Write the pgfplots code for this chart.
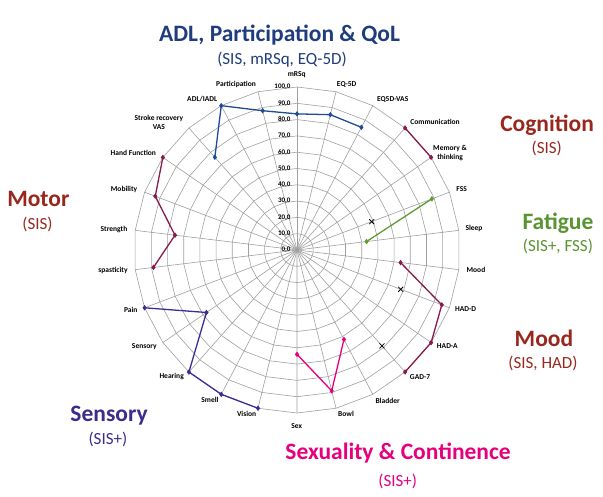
\documentclass[border=0pt]{standalone}
\usepackage{fontspec}
\setmainfont{Carlito}
\usepackage{pgfplots}
\pgfplotsset{compat=1.18}
\definecolor{gridc}{RGB}{160,160,160}
\definecolor{navyT}{RGB}{31,61,125}
\definecolor{adlL}{RGB}{31,75,150}
\definecolor{redT}{RGB}{152,40,30}
\definecolor{maroonL}{RGB}{135,25,75}
\definecolor{greenT}{RGB}{88,148,48}
\definecolor{greenL}{RGB}{95,155,50}
\definecolor{indigoT}{RGB}{62,44,140}
\definecolor{indigoL}{RGB}{60,45,150}
\definecolor{pinkT}{RGB}{230,0,126}
\tikzset{
  cat/.style={font=\fontsize{7.5}{9}\selectfont\bfseries, align=center, inner sep=0pt},
  ttl/.style={font=\fontsize{23.5}{28}\selectfont\bfseries, anchor=base, inner sep=0pt},
  sub/.style={font=\fontsize{17}{20}\selectfont, anchor=base, inner sep=0pt},
}
\begin{document}
\begin{tikzpicture}
\begin{axis}[width=603pt,height=497pt,scale only axis,
  xmin=-182.21,xmax=187.73,ymin=-151.53,ymax=153.37,
  hide axis, clip=false]
\path (rel axis cs:0,0) rectangle (rel axis cs:1,1);
\pgfplotsextra{
  \foreach \r in {10,20,...,100}{
    \draw[gridc, line width=0.6pt] (axis cs:0,\r)
      \foreach \k in {1,...,25}{ -- (axis cs:{\r*cos(90-\k*360/26)},{\r*sin(90-\k*360/26)}) } -- cycle;
  }
  \foreach \k in {0,...,25}{
    \draw[gridc, line width=0.6pt] (axis cs:0,0) -- (axis cs:{100*cos(90-\k*360/26)},{100*sin(90-\k*360/26)});
  }
  \foreach \v in {0,10,...,100}{
    \node[anchor=east, inner sep=0pt, font=\fontsize{7}{8}\selectfont\bfseries] at (axis cs:-3.9,\v) {\v,0};
  }
}
% ADL, Participation & QoL
\addplot[adlL, line width=1.3pt, mark=diamond*, mark size=1.7pt, data cs=polar] coordinates {
  (131.538,76) (117.692,100) (103.846,88) (90,83.5) (76.154,85.5) (62.308,85)};
% Cognition
\addplot[maroonL, line width=1.3pt, mark=diamond*, mark size=1.7pt, data cs=polar] coordinates {
  (48.462,100) (34.615,100)};
% Fatigue
\addplot[greenL, line width=1.3pt, mark=diamond*, mark size=1.7pt, data cs=polar] coordinates {
  (20.769,88.5) (6.923,43)};
% Mood
\addplot[maroonL, line width=1.3pt, mark=diamond*, mark size=1.7pt, data cs=polar] coordinates {
  (-6.923,64) (-20.769,95) (-34.615,100) (-48.462,100)};
% Sexuality & Continence
\addplot[pinkT, line width=1.3pt, mark=diamond*, mark size=1.7pt, data cs=polar] coordinates {
  (-90,64) (-76.154,89) (-62.308,62)};
% Sensory
\addplot[indigoL, line width=1.3pt, mark=diamond*, mark size=1.7pt, data cs=polar] coordinates {
  (-103.846,100) (-117.692,100) (-131.538,100) (-145.385,67.5) (-159.231,100)};
% Motor
\addplot[maroonL, line width=1.3pt, mark=diamond*, mark size=1.7pt, data cs=polar] coordinates {
  (-173.077,88.7) (173.077,75.4) (159.231,93) (145.385,100)};
% reference crosses
\addplot[only marks, black, mark=x, mark size=3.5pt, line width=0.8pt, data cs=polar] coordinates {
  (20.769,49) (-20.769,68) (-48.462,78.6)};
% category labels
\node[cat] at (axis cs:-0.2,107.4) {mRSq};
\node[cat] at (axis cs:30.5,101.7) {EQ-5D};
\node[cat] at (axis cs:58.7,92.6) {EQ5D-VAS};
\node[cat] at (axis cs:84.7,78.3) {Communication};
\node[cat] at (axis cs:93.9,59.5) {Memory \&\\thinking};
\node[cat] at (axis cs:101.0,37.2) {FSS};
\node[cat] at (axis cs:108.6,13.5) {Sleep};
\node[cat] at (axis cs:109.8,-12.3) {Mood};
\node[cat] at (axis cs:103.5,-36.4) {HAD-D};
\node[cat] at (axis cs:92.2,-58.9) {HAD-A};
\node[cat] at (axis cs:75.5,-77.7) {GAD-7};
\node[cat] at (axis cs:55.6,-92.5) {Bladder};
\node[cat] at (axis cs:30.1,-100.8) {Bowl};
\node[cat] at (axis cs:-0.2,-107.8) {Sex};
\node[cat] at (axis cs:-30.9,-100.8) {Vision};
\node[cat] at (axis cs:-53.4,-92.0) {Smell};
\node[cat] at (axis cs:-76.9,-77.7) {Hearing};
\node[cat] at (axis cs:-93.7,-59.3) {Sensory};
\node[cat] at (axis cs:-102.0,-36.8) {Pain};
\node[cat] at (axis cs:-112.9,-12.7) {spasticity};
\node[cat] at (axis cs:-112.3,12.7) {Strength};
\node[cat] at (axis cs:-106.1,37.2) {Mobility};
\node[cat] at (axis cs:-100.4,59.3) {Hand Function};
\node[cat] at (axis cs:-84.7,78.2) {Stroke recovery\\VAS};
\node[cat] at (axis cs:-58.1,92.6) {ADL/IADL};
\node[cat] at (axis cs:-37.4,101.7) {Participation};
% group titles
\node[ttl, navyT] at (axis cs:-10.7,128.2) {ADL, Participation \& QoL};
\node[sub, navyT] at (axis cs:-9.2,114.1) {(SIS, mRSq, EQ-5D)};
\node[ttl, redT] at (axis cs:153.4,72.6) {Cognition};
\node[sub, redT] at (axis cs:153.2,58.9) {(SIS)};
\node[ttl, greenT] at (axis cs:160.1,12.7) {Fatigue};
\node[sub, greenT] at (axis cs:160.1,-1.0) {(SIS+, FSS)};
\node[ttl, redT] at (axis cs:151.5,-58.9) {Mood};
\node[sub, redT] at (axis cs:150.9,-73.0) {(SIS, HAD)};
\node[ttl, redT] at (axis cs:-158.7,26.6) {Motor};
\node[sub, redT] at (axis cs:-159.2,12.7) {(SIS)};
\node[ttl, indigoT] at (axis cs:-115.3,-105.3) {Sensory};
\node[sub, indigoT] at (axis cs:-116.0,-119.2) {(SIS+)};
\node[ttl, pinkT, font=\fontsize{23.5}{28}\selectfont\bfseries] at (axis cs:62.0,-128.8) {Sexuality \& Continence};
\node[sub, pinkT] at (axis cs:61.8,-144.8) {(SIS+)};
\end{axis}
\end{tikzpicture}
\end{document}
